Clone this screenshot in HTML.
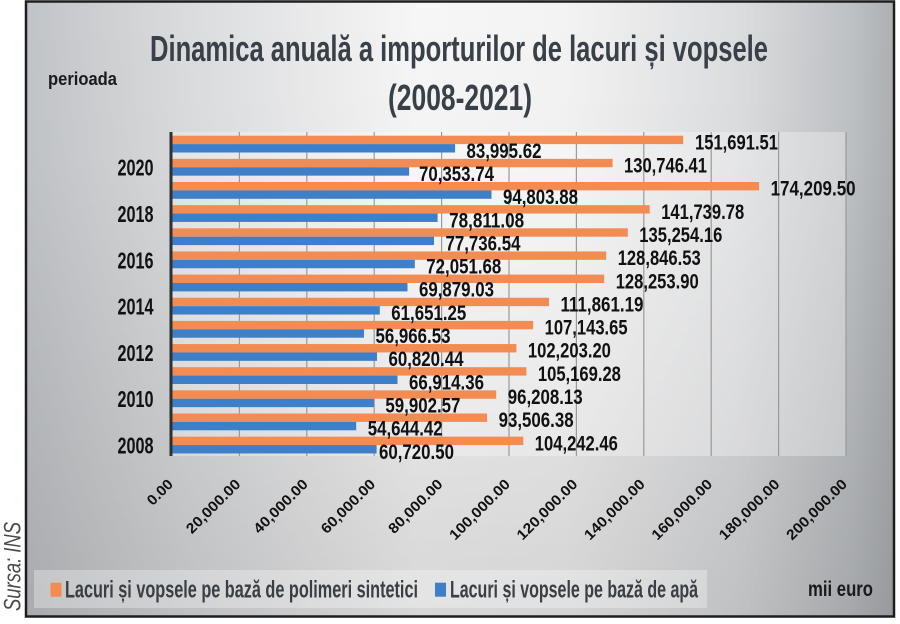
<!DOCTYPE html>
<html>
<head>
<meta charset="utf-8">
<style>
html,body{margin:0;padding:0;background:#fff;}
body{width:900px;height:624px;overflow:hidden;}
svg{display:block;}
text{font-family:"Liberation Sans",sans-serif;}
</style>
</head>
<body>
<svg width="900" height="624" viewBox="0 0 900 624" xmlns="http://www.w3.org/2000/svg">
<defs>
<linearGradient id="bgh" x1="27" y1="0" x2="894" y2="0" gradientUnits="userSpaceOnUse">
<stop offset="0" stop-color="#c1c4c7"/>
<stop offset="0.18" stop-color="#dadbdd"/>
<stop offset="0.45" stop-color="#f6f6f6"/>
<stop offset="0.62" stop-color="#f3f3f3"/>
<stop offset="0.82" stop-color="#dcdddf"/>
<stop offset="0.95" stop-color="#bec1c4"/>
<stop offset="1" stop-color="#adb0b3"/>
</linearGradient>
<linearGradient id="bgv" x1="0" y1="0" x2="0" y2="624" gradientUnits="userSpaceOnUse">
<stop offset="0" stop-color="#000" stop-opacity="0"/>
<stop offset="0.25" stop-color="#000" stop-opacity="0.01"/>
<stop offset="1" stop-color="#000" stop-opacity="0.13"/>
</linearGradient>
</defs>

<!-- frame background -->
<rect x="26" y="1.5" width="868" height="615" fill="url(#bgh)"/>
<rect x="26" y="1.5" width="868" height="615" fill="url(#bgv)"/>

<!-- plot area light fill -->
<rect x="172" y="132" width="674" height="324" fill="#ffffff" fill-opacity="0.3"/>

<!-- grid lines -->
<g stroke="#9a9a9a" stroke-width="1.2">
<line x1="239.4" y1="132" x2="239.4" y2="456"/>
<line x1="306.8" y1="132" x2="306.8" y2="456"/>
<line x1="374.2" y1="132" x2="374.2" y2="456"/>
<line x1="441.6" y1="132" x2="441.6" y2="456"/>
<line x1="509" y1="132" x2="509" y2="456"/>
<line x1="576.4" y1="132" x2="576.4" y2="456"/>
<line x1="643.8" y1="132" x2="643.8" y2="456"/>
<line x1="711.2" y1="132" x2="711.2" y2="456"/>
<line x1="778.6" y1="132" x2="778.6" y2="456"/>
<line x1="846" y1="132" x2="846" y2="456"/>
</g>

<!-- bars: orange -->
<g fill="#f28c53">
<rect x="172" y="135.7" width="511.2" height="8.4"/>
<rect x="172" y="158.85" width="440.6" height="8.4"/>
<rect x="172" y="182" width="587.1" height="8.4"/>
<rect x="172" y="205.15" width="477.7" height="8.4"/>
<rect x="172" y="228.3" width="455.8" height="8.4"/>
<rect x="172" y="251.45" width="434.2" height="8.4"/>
<rect x="172" y="274.6" width="432.2" height="8.4"/>
<rect x="172" y="297.75" width="377" height="8.4"/>
<rect x="172" y="320.9" width="361.1" height="8.4"/>
<rect x="172" y="344.05" width="344.4" height="8.4"/>
<rect x="172" y="367.2" width="354.4" height="8.4"/>
<rect x="172" y="390.35" width="324.2" height="8.4"/>
<rect x="172" y="413.5" width="315.1" height="8.4"/>
<rect x="172" y="436.65" width="351.3" height="8.4"/>
</g>
<!-- bars: blue -->
<g fill="#3f7fc8">
<rect x="172" y="144.1" width="283.1" height="8.4"/>
<rect x="172" y="167.25" width="237.1" height="8.4"/>
<rect x="172" y="190.4" width="319.5" height="8.4"/>
<rect x="172" y="213.55" width="265.6" height="8.4"/>
<rect x="172" y="236.7" width="262" height="8.4"/>
<rect x="172" y="259.85" width="242.8" height="8.4"/>
<rect x="172" y="283" width="235.5" height="8.4"/>
<rect x="172" y="306.15" width="207.8" height="8.4"/>
<rect x="172" y="329.3" width="192" height="8.4"/>
<rect x="172" y="352.45" width="205" height="8.4"/>
<rect x="172" y="375.6" width="225.5" height="8.4"/>
<rect x="172" y="398.75" width="201.9" height="8.4"/>
<rect x="172" y="421.9" width="184.2" height="8.4"/>
<rect x="172" y="445.05" width="204.6" height="8.4"/>
</g>

<!-- axis line -->
<line x1="171" y1="132" x2="171" y2="456" stroke="#2c3135" stroke-width="3"/>

<!-- data labels -->
<g font-size="21" font-weight="bold" fill="#111" lengthAdjust="spacingAndGlyphs">
<text x="695" y="149.4" textLength="83" lengthAdjust="spacingAndGlyphs">151,691.51</text>
<text x="466.5" y="157.8" textLength="75" lengthAdjust="spacingAndGlyphs">83,995.62</text>
<text x="624" y="172.5" textLength="83" lengthAdjust="spacingAndGlyphs">130,746.41</text>
<text x="419" y="181" textLength="75" lengthAdjust="spacingAndGlyphs">70,353.74</text>
<text x="770.6" y="195.7" textLength="85" lengthAdjust="spacingAndGlyphs">174,209.50</text>
<text x="503" y="204.1" textLength="75" lengthAdjust="spacingAndGlyphs">94,803.88</text>
<text x="661.2" y="218.8" textLength="83" lengthAdjust="spacingAndGlyphs">141,739.78</text>
<text x="449.1" y="227.3" textLength="75" lengthAdjust="spacingAndGlyphs">78,811.08</text>
<text x="639.3" y="242" textLength="83" lengthAdjust="spacingAndGlyphs">135,254.16</text>
<text x="445.5" y="250.4" textLength="75" lengthAdjust="spacingAndGlyphs">77,736.54</text>
<text x="617.7" y="265.1" textLength="83" lengthAdjust="spacingAndGlyphs">128,846.53</text>
<text x="426.3" y="273.6" textLength="75" lengthAdjust="spacingAndGlyphs">72,051.68</text>
<text x="615.7" y="288.3" textLength="83" lengthAdjust="spacingAndGlyphs">128,253.90</text>
<text x="419" y="296.7" textLength="75" lengthAdjust="spacingAndGlyphs">69,879.03</text>
<text x="560.5" y="311.4" textLength="83" lengthAdjust="spacingAndGlyphs">111,861.19</text>
<text x="391.3" y="319.9" textLength="75" lengthAdjust="spacingAndGlyphs">61,651.25</text>
<text x="544.6" y="334.6" textLength="83" lengthAdjust="spacingAndGlyphs">107,143.65</text>
<text x="375.5" y="343" textLength="75" lengthAdjust="spacingAndGlyphs">56,966.53</text>
<text x="527.9" y="357.7" textLength="83" lengthAdjust="spacingAndGlyphs">102,203.20</text>
<text x="388.5" y="366.2" textLength="75" lengthAdjust="spacingAndGlyphs">60,820.44</text>
<text x="537.9" y="380.9" textLength="83" lengthAdjust="spacingAndGlyphs">105,169.28</text>
<text x="409" y="389.3" textLength="75" lengthAdjust="spacingAndGlyphs">66,914.36</text>
<text x="507.7" y="404" textLength="75" lengthAdjust="spacingAndGlyphs">96,208.13</text>
<text x="385.4" y="412.5" textLength="75" lengthAdjust="spacingAndGlyphs">59,902.57</text>
<text x="498.6" y="427.2" textLength="75" lengthAdjust="spacingAndGlyphs">93,506.38</text>
<text x="367.7" y="435.6" textLength="75" lengthAdjust="spacingAndGlyphs">54,644.42</text>
<text x="534.8" y="450.3" textLength="83" lengthAdjust="spacingAndGlyphs">104,242.46</text>
<text x="379" y="458.8" textLength="75" lengthAdjust="spacingAndGlyphs">60,720.50</text>
</g>

<!-- year labels -->
<g font-size="23" font-weight="bold" fill="#111" text-anchor="end">
<text x="153.5" y="175.7" textLength="36" lengthAdjust="spacingAndGlyphs">2020</text>
<text x="153.5" y="222" textLength="36" lengthAdjust="spacingAndGlyphs">2018</text>
<text x="153.5" y="268.3" textLength="36" lengthAdjust="spacingAndGlyphs">2016</text>
<text x="153.5" y="314.6" textLength="36" lengthAdjust="spacingAndGlyphs">2014</text>
<text x="153.5" y="360.9" textLength="36" lengthAdjust="spacingAndGlyphs">2012</text>
<text x="153.5" y="407.2" textLength="36" lengthAdjust="spacingAndGlyphs">2010</text>
<text x="153.5" y="453.5" textLength="36" lengthAdjust="spacingAndGlyphs">2008</text>
</g>

<!-- x tick labels -->
<g font-size="14.5" font-weight="bold" fill="#111" text-anchor="end">
<text transform="translate(174,485) rotate(-45)" textLength="30" lengthAdjust="spacingAndGlyphs">0.00</text>
<text transform="translate(241.4,485) rotate(-45)" textLength="70" lengthAdjust="spacingAndGlyphs">20,000.00</text>
<text transform="translate(308.8,485) rotate(-45)" textLength="70" lengthAdjust="spacingAndGlyphs">40,000.00</text>
<text transform="translate(376.2,485) rotate(-45)" textLength="70" lengthAdjust="spacingAndGlyphs">60,000.00</text>
<text transform="translate(443.6,485) rotate(-45)" textLength="70" lengthAdjust="spacingAndGlyphs">80,000.00</text>
<text transform="translate(511,485) rotate(-45)" textLength="79" lengthAdjust="spacingAndGlyphs">100,000.00</text>
<text transform="translate(578.4,485) rotate(-45)" textLength="79" lengthAdjust="spacingAndGlyphs">120,000.00</text>
<text transform="translate(645.8,485) rotate(-45)" textLength="79" lengthAdjust="spacingAndGlyphs">140,000.00</text>
<text transform="translate(713.2,485) rotate(-45)" textLength="79" lengthAdjust="spacingAndGlyphs">160,000.00</text>
<text transform="translate(780.6,485) rotate(-45)" textLength="79" lengthAdjust="spacingAndGlyphs">180,000.00</text>
<text transform="translate(848,485) rotate(-45)" textLength="79" lengthAdjust="spacingAndGlyphs">200,000.00</text>
</g>

<!-- title -->
<text x="150" y="61" font-size="36" font-weight="bold" fill="#3a4047" textLength="618" lengthAdjust="spacingAndGlyphs">Dinamica anuală a importurilor de lacuri și vopsele</text>
<text x="388" y="110" font-size="36" font-weight="bold" fill="#3a4047" textLength="144" lengthAdjust="spacingAndGlyphs">(2008-2021)</text>

<!-- perioada -->
<text x="48" y="85" font-size="18" font-weight="bold" fill="#1a1a1a" textLength="69" lengthAdjust="spacingAndGlyphs">perioada</text>

<!-- legend -->
<rect x="34" y="570" width="673" height="38" fill="#ffffff" fill-opacity="0.3"/>
<rect x="50.5" y="582.7" width="11" height="14" fill="#f28c53"/>
<text x="65" y="597.3" font-size="24" font-weight="bold" fill="#3a3f44" textLength="353" lengthAdjust="spacingAndGlyphs">Lacuri și vopsele pe bază de polimeri sintetici</text>
<rect x="435" y="582.7" width="11" height="14" fill="#3f7fc8"/>
<text x="450" y="597.3" font-size="24" font-weight="bold" fill="#3a3f44" textLength="248" lengthAdjust="spacingAndGlyphs">Lacuri și vopsele pe bază de apă</text>

<!-- mii euro -->
<text x="808" y="596" font-size="21" font-weight="bold" fill="#1a1a1a" textLength="65" lengthAdjust="spacingAndGlyphs">mii euro</text>

<!-- frame -->
<rect x="26" y="1.5" width="868" height="615" fill="none" stroke="#1e1e1e" stroke-width="2.5"/>

<!-- source -->
<text transform="translate(20.5,611) rotate(-90)" font-size="24" font-style="italic" fill="#4a4a4a" textLength="89" lengthAdjust="spacingAndGlyphs">Sursa: INS</text>
</svg>
</body>
</html>
